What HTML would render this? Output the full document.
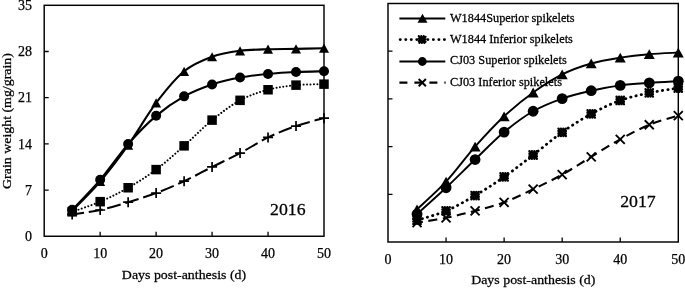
<!DOCTYPE html><html><head><meta charset="utf-8"><style>html,body{margin:0;padding:0;background:#fff}svg{display:block;filter:grayscale(1)}text{font-family:"Liberation Serif",serif;fill:#000;stroke:#000;stroke-width:0.25px}</style></head><body>
<svg width="685" height="288" viewBox="0 0 685 288">
<rect width="685" height="288" fill="#fff"/>
<rect x="44.20" y="5.30" width="279.80" height="230.95" fill="none" stroke="#000" stroke-width="1.45"/>
<path d="M100.16,236.25 v-4.5 M156.12,236.25 v-4.5 M212.08,236.25 v-4.5 M268.04,236.25 v-4.5 M44.20,190.06 h4.5 M44.20,143.87 h4.5 M44.20,97.68 h4.5 M44.20,51.49 h4.5 " stroke="#000" stroke-width="1.3" fill="none"/>
<text transform="translate(44.20,257.85) scale(1.000,1)" font-size="14.00" text-anchor="middle">0</text>
<text transform="translate(100.16,257.85) scale(1.000,1)" font-size="14.00" text-anchor="middle">10</text>
<text transform="translate(156.12,257.85) scale(1.000,1)" font-size="14.00" text-anchor="middle">20</text>
<text transform="translate(212.08,257.85) scale(1.000,1)" font-size="14.00" text-anchor="middle">30</text>
<text transform="translate(268.04,257.85) scale(1.000,1)" font-size="14.00" text-anchor="middle">40</text>
<text transform="translate(324.00,257.85) scale(1.000,1)" font-size="14.00" text-anchor="middle">50</text>
<text transform="translate(32.10,241.05) scale(1.000,1)" font-size="14.00" text-anchor="end">0</text>
<text transform="translate(32.10,194.86) scale(1.000,1)" font-size="14.00" text-anchor="end">7</text>
<text transform="translate(32.10,148.67) scale(1.000,1)" font-size="14.00" text-anchor="end">14</text>
<text transform="translate(32.10,102.48) scale(1.000,1)" font-size="14.00" text-anchor="end">21</text>
<text transform="translate(32.10,56.29) scale(1.000,1)" font-size="14.00" text-anchor="end">28</text>
<text transform="translate(32.10,10.10) scale(1.000,1)" font-size="14.00" text-anchor="end">35</text>
<rect x="388.00" y="3.50" width="290.30" height="238.50" fill="none" stroke="#000" stroke-width="1.45"/>
<path d="M446.06,242.00 v-4.5 M504.12,242.00 v-4.5 M562.18,242.00 v-4.5 M620.24,242.00 v-4.5 M388.00,194.30 h4.5 M388.00,146.60 h4.5 M388.00,98.90 h4.5 M388.00,51.20 h4.5 " stroke="#000" stroke-width="1.3" fill="none"/>
<text transform="translate(388.00,263.60) scale(1.000,1)" font-size="14.00" text-anchor="middle">0</text>
<text transform="translate(446.06,263.60) scale(1.000,1)" font-size="14.00" text-anchor="middle">10</text>
<text transform="translate(504.12,263.60) scale(1.000,1)" font-size="14.00" text-anchor="middle">20</text>
<text transform="translate(562.18,263.60) scale(1.000,1)" font-size="14.00" text-anchor="middle">30</text>
<text transform="translate(620.24,263.60) scale(1.000,1)" font-size="14.00" text-anchor="middle">40</text>
<text transform="translate(678.30,263.60) scale(1.000,1)" font-size="14.00" text-anchor="middle">50</text>
<text transform="translate(184.00,278.70) scale(1.070,1)" font-size="13.00" text-anchor="middle">Days post-anthesis (d)</text>
<text transform="translate(533.30,284.00) scale(1.070,1)" font-size="13.00" text-anchor="middle">Days post-anthesis (d)</text>
<text transform="translate(11.00,121.00) rotate(-90) scale(1.070,1)" font-size="13.00" text-anchor="middle">Grain weight (mg/grain)</text>
<text transform="translate(270.00,215.00) scale(1.070,1)" font-size="16.60" text-anchor="start">2016</text>
<text transform="translate(620.20,207.10) scale(1.070,1)" font-size="16.60" text-anchor="start">2017</text>
<text transform="translate(450.00,22.30) scale(1.070,1)" font-size="11.50" text-anchor="start">W1844Superior spikelets</text>
<text transform="translate(450.00,43.20) scale(1.070,1)" font-size="11.50" text-anchor="start">W1844 Inferior spikelets</text>
<text transform="translate(450.00,64.40) scale(1.070,1)" font-size="11.50" text-anchor="start">CJ03 Superior spikelets</text>
<text transform="translate(450.00,85.60) scale(1.070,1)" font-size="11.50" text-anchor="start">CJ03 Inferior spikelets</text>
<path d="M399.4,18.5 H445.3" stroke="#000" stroke-width="2.1"/><polygon points="422.50,13.70 417.50,22.70 427.50,22.70" fill="#000"/>
<path d="M400.1,39.6 H445.3" stroke="#000" stroke-width="2.7" stroke-dasharray="0.3 5.22" stroke-linecap="round"/><rect x="418.80" y="36.20" width="6.80" height="6.80" fill="#000" stroke="#000" stroke-width="2.20" stroke-dasharray="0.01 2.463" stroke-linecap="round"/>
<path d="M399.4,61.5 H445.3" stroke="#000" stroke-width="2.1"/><circle cx="422.30" cy="61.50" r="4.40" fill="#000"/>
<path d="M399.4,82.6 H445.6" stroke="#000" stroke-width="2.3" stroke-dasharray="8 7"/><path d="M418.70,79.00 L425.90,86.20 M418.70,86.20 L425.90,79.00" stroke="#000" stroke-width="2.00" fill="none"/>
<path d="M72.18,214.47 C76.84,213.73 90.83,212.03 100.16,209.99 C109.49,207.94 118.81,205.03 128.14,202.20 C137.47,199.37 146.79,196.53 156.12,193.03 C165.45,189.53 174.77,185.56 184.10,181.22 C193.43,176.87 202.75,171.65 212.08,166.97 C221.41,162.28 230.73,158.02 240.06,153.11 C249.39,148.19 258.71,141.98 268.04,137.47 C277.37,132.96 286.69,129.28 296.02,126.05 C305.35,122.83 319.34,119.46 324.00,118.14" fill="none" stroke="#000" stroke-width="2" stroke-dasharray="14 4.8" stroke-dashoffset="2"/>
<path d="M67.18,214.47 H77.18 M72.18,209.47 V219.47" stroke="#000" stroke-width="1.70" fill="none"/>
<path d="M95.16,209.99 H105.16 M100.16,204.99 V214.99" stroke="#000" stroke-width="1.70" fill="none"/>
<path d="M123.14,202.20 H133.14 M128.14,197.20 V207.20" stroke="#000" stroke-width="1.70" fill="none"/>
<path d="M151.12,193.03 H161.12 M156.12,188.03 V198.03" stroke="#000" stroke-width="1.70" fill="none"/>
<path d="M179.10,181.22 H189.10 M184.10,176.22 V186.22" stroke="#000" stroke-width="1.70" fill="none"/>
<path d="M207.08,166.97 H217.08 M212.08,161.97 V171.97" stroke="#000" stroke-width="1.70" fill="none"/>
<path d="M235.06,153.11 H245.06 M240.06,148.11 V158.11" stroke="#000" stroke-width="1.70" fill="none"/>
<path d="M263.04,137.47 H273.04 M268.04,132.47 V142.47" stroke="#000" stroke-width="1.70" fill="none"/>
<path d="M291.02,126.05 H301.02 M296.02,121.05 V131.05" stroke="#000" stroke-width="1.70" fill="none"/>
<path d="M319.00,118.14 H329.00 M324.00,113.14 V123.14" stroke="#000" stroke-width="1.70" fill="none"/>
<path d="M72.18,211.84 C76.84,210.14 90.83,205.69 100.16,201.67 C109.49,197.66 118.81,193.10 128.14,187.75 C137.47,182.41 146.79,176.59 156.12,169.60 C165.45,162.62 174.77,154.10 184.10,145.85 C193.43,137.60 202.75,127.70 212.08,120.12 C221.41,112.53 230.73,105.38 240.06,100.32 C249.39,95.26 258.71,92.29 268.04,89.76 C277.37,87.23 286.69,86.08 296.02,85.14 C305.35,84.21 319.34,84.32 324.00,84.15" fill="none" stroke="#000" stroke-width="2" stroke-dasharray="0.01 3.4" stroke-linecap="round"/>
<rect x="67.43" y="207.09" width="9.50" height="9.50" fill="#000"/>
<rect x="95.41" y="196.92" width="9.50" height="9.50" fill="#000"/>
<rect x="123.39" y="183.00" width="9.50" height="9.50" fill="#000"/>
<rect x="151.37" y="164.85" width="9.50" height="9.50" fill="#000"/>
<rect x="179.35" y="141.10" width="9.50" height="9.50" fill="#000"/>
<rect x="207.33" y="115.37" width="9.50" height="9.50" fill="#000"/>
<rect x="235.31" y="95.57" width="9.50" height="9.50" fill="#000"/>
<rect x="263.29" y="85.01" width="9.50" height="9.50" fill="#000"/>
<rect x="291.27" y="80.39" width="9.50" height="9.50" fill="#000"/>
<rect x="319.25" y="79.40" width="9.50" height="9.50" fill="#000"/>
<path d="M72.18,210.85 C76.84,205.95 90.83,192.42 100.16,181.48 C109.49,170.54 118.81,158.28 128.14,145.19 C137.47,132.10 146.79,115.28 156.12,102.96 C165.45,90.64 174.77,78.98 184.10,71.29 C193.43,63.59 202.75,60.18 212.08,56.77 C221.41,53.36 230.73,52.09 240.06,50.83 C249.39,49.57 258.71,49.51 268.04,49.18 C277.37,48.85 286.69,49.02 296.02,48.85 C305.35,48.69 319.34,48.30 324.00,48.19" fill="none" stroke="#000" stroke-width="2.1"/>
<polygon points="72.18,206.25 67.18,215.45 77.18,215.45" fill="#000"/>
<polygon points="100.16,176.88 95.16,186.08 105.16,186.08" fill="#000"/>
<polygon points="128.14,140.59 123.14,149.79 133.14,149.79" fill="#000"/>
<polygon points="156.12,98.36 151.12,107.56 161.12,107.56" fill="#000"/>
<polygon points="184.10,66.69 179.10,75.89 189.10,75.89" fill="#000"/>
<polygon points="212.08,52.17 207.08,61.37 217.08,61.37" fill="#000"/>
<polygon points="240.06,46.23 235.06,55.43 245.06,55.43" fill="#000"/>
<polygon points="268.04,44.58 263.04,53.78 273.04,53.78" fill="#000"/>
<polygon points="296.02,44.25 291.02,53.45 301.02,53.45" fill="#000"/>
<polygon points="324.00,43.59 319.00,52.79 329.00,52.79" fill="#000"/>
<path d="M72.18,209.86 C76.84,204.85 90.83,190.80 100.16,179.83 C109.49,168.87 118.81,154.74 128.14,144.07 C137.47,133.40 146.79,123.78 156.12,115.83 C165.45,107.87 174.77,101.58 184.10,96.36 C193.43,91.14 202.75,87.63 212.08,84.48 C221.41,81.34 230.73,79.25 240.06,77.49 C249.39,75.73 258.71,74.85 268.04,73.93 C277.37,73.00 286.69,72.39 296.02,71.95 C305.35,71.51 319.34,71.40 324.00,71.29" fill="none" stroke="#000" stroke-width="2.1"/>
<circle cx="72.18" cy="209.86" r="5.00" fill="#000"/>
<circle cx="100.16" cy="179.83" r="5.00" fill="#000"/>
<circle cx="128.14" cy="144.07" r="5.00" fill="#000"/>
<circle cx="156.12" cy="115.83" r="5.00" fill="#000"/>
<circle cx="184.10" cy="96.36" r="5.00" fill="#000"/>
<circle cx="212.08" cy="84.48" r="5.00" fill="#000"/>
<circle cx="240.06" cy="77.49" r="5.00" fill="#000"/>
<circle cx="268.04" cy="73.93" r="5.00" fill="#000"/>
<circle cx="296.02" cy="71.95" r="5.00" fill="#000"/>
<circle cx="324.00" cy="71.29" r="5.00" fill="#000"/>
<path d="M417.03,222.58 C421.87,221.78 436.38,219.76 446.06,217.81 C455.74,215.86 465.41,213.44 475.09,210.86 C484.77,208.28 494.44,205.95 504.12,202.34 C513.80,198.73 523.47,193.81 533.15,189.19 C542.83,184.57 552.50,180.00 562.18,174.61 C571.86,169.21 581.53,162.70 591.21,156.82 C600.89,150.94 610.56,144.65 620.24,139.31 C629.92,133.97 639.59,128.75 649.27,124.79 C658.95,120.84 673.46,117.13 678.30,115.59" fill="none" stroke="#000" stroke-width="2.1" stroke-dasharray="9 5.5" stroke-dashoffset="3"/>
<path d="M412.53,218.08 L421.53,227.08 M412.53,227.08 L421.53,218.08" stroke="#000" stroke-width="1.90" fill="none"/>
<path d="M441.56,213.31 L450.56,222.31 M441.56,222.31 L450.56,213.31" stroke="#000" stroke-width="1.90" fill="none"/>
<path d="M470.59,206.36 L479.59,215.36 M470.59,215.36 L479.59,206.36" stroke="#000" stroke-width="1.90" fill="none"/>
<path d="M499.62,197.84 L508.62,206.84 M499.62,206.84 L508.62,197.84" stroke="#000" stroke-width="1.90" fill="none"/>
<path d="M528.65,184.69 L537.65,193.69 M528.65,193.69 L537.65,184.69" stroke="#000" stroke-width="1.90" fill="none"/>
<path d="M557.68,170.11 L566.68,179.11 M557.68,179.11 L566.68,170.11" stroke="#000" stroke-width="1.90" fill="none"/>
<path d="M586.71,152.32 L595.71,161.32 M586.71,161.32 L595.71,152.32" stroke="#000" stroke-width="1.90" fill="none"/>
<path d="M615.74,134.81 L624.74,143.81 M615.74,143.81 L624.74,134.81" stroke="#000" stroke-width="1.90" fill="none"/>
<path d="M644.77,120.29 L653.77,129.29 M644.77,129.29 L653.77,120.29" stroke="#000" stroke-width="1.90" fill="none"/>
<path d="M673.80,111.09 L682.80,120.09 M673.80,120.09 L682.80,111.09" stroke="#000" stroke-width="1.90" fill="none"/>
<path d="M417.03,220.19 C421.87,218.64 436.38,214.97 446.06,210.86 C455.74,206.75 465.41,201.18 475.09,195.53 C484.77,189.87 494.44,183.68 504.12,176.92 C513.80,170.17 523.47,162.42 533.15,154.98 C542.83,147.54 552.50,139.14 562.18,132.29 C571.86,125.44 581.53,119.20 591.21,113.89 C600.89,108.59 610.56,103.97 620.24,100.47 C629.92,96.97 639.59,94.98 649.27,92.90 C658.95,90.83 673.46,88.81 678.30,88.00" fill="none" stroke="#000" stroke-width="2.8" stroke-dasharray="0.3 5.1" stroke-linecap="round"/>
<rect x="413.33" y="216.49" width="7.40" height="7.40" fill="#000" stroke="#000" stroke-width="2.40" stroke-dasharray="0.01 2.457" stroke-linecap="round"/>
<rect x="442.36" y="207.16" width="7.40" height="7.40" fill="#000" stroke="#000" stroke-width="2.40" stroke-dasharray="0.01 2.457" stroke-linecap="round"/>
<rect x="471.39" y="191.83" width="7.40" height="7.40" fill="#000" stroke="#000" stroke-width="2.40" stroke-dasharray="0.01 2.457" stroke-linecap="round"/>
<rect x="500.42" y="173.22" width="7.40" height="7.40" fill="#000" stroke="#000" stroke-width="2.40" stroke-dasharray="0.01 2.457" stroke-linecap="round"/>
<rect x="529.45" y="151.28" width="7.40" height="7.40" fill="#000" stroke="#000" stroke-width="2.40" stroke-dasharray="0.01 2.457" stroke-linecap="round"/>
<rect x="558.48" y="128.59" width="7.40" height="7.40" fill="#000" stroke="#000" stroke-width="2.40" stroke-dasharray="0.01 2.457" stroke-linecap="round"/>
<rect x="587.51" y="110.19" width="7.40" height="7.40" fill="#000" stroke="#000" stroke-width="2.40" stroke-dasharray="0.01 2.457" stroke-linecap="round"/>
<rect x="616.54" y="96.77" width="7.40" height="7.40" fill="#000" stroke="#000" stroke-width="2.40" stroke-dasharray="0.01 2.457" stroke-linecap="round"/>
<rect x="645.57" y="89.20" width="7.40" height="7.40" fill="#000" stroke="#000" stroke-width="2.40" stroke-dasharray="0.01 2.457" stroke-linecap="round"/>
<rect x="674.60" y="84.30" width="7.40" height="7.40" fill="#000" stroke="#000" stroke-width="2.40" stroke-dasharray="0.01 2.457" stroke-linecap="round"/>
<path d="M417.03,209.29 C421.87,204.69 436.38,192.13 446.06,181.69 C455.74,171.26 465.41,157.57 475.09,146.67 C484.77,135.77 494.44,125.31 504.12,116.28 C513.80,107.25 523.47,99.48 533.15,92.49 C542.83,85.51 552.50,79.21 562.18,74.37 C571.86,69.53 581.53,66.25 591.21,63.47 C600.89,60.68 610.56,59.22 620.24,57.67 C629.92,56.13 639.59,55.05 649.27,54.20 C658.95,53.35 673.46,52.84 678.30,52.56" fill="none" stroke="#000" stroke-width="1.9"/>
<polygon points="417.03,204.39 411.53,214.19 422.53,214.19" fill="#000"/>
<polygon points="446.06,176.79 440.56,186.59 451.56,186.59" fill="#000"/>
<polygon points="475.09,141.77 469.59,151.57 480.59,151.57" fill="#000"/>
<polygon points="504.12,111.38 498.62,121.18 509.62,121.18" fill="#000"/>
<polygon points="533.15,87.59 527.65,97.39 538.65,97.39" fill="#000"/>
<polygon points="562.18,69.47 556.68,79.27 567.68,79.27" fill="#000"/>
<polygon points="591.21,58.57 585.71,68.37 596.71,68.37" fill="#000"/>
<polygon points="620.24,52.77 614.74,62.57 625.74,62.57" fill="#000"/>
<polygon points="649.27,49.30 643.77,59.10 654.77,59.10" fill="#000"/>
<polygon points="678.30,47.66 672.80,57.46 683.80,57.46" fill="#000"/>
<path d="M417.03,214.06 C421.87,209.68 436.38,196.84 446.06,187.76 C455.74,178.67 465.41,168.83 475.09,159.55 C484.77,150.27 494.44,140.14 504.12,132.09 C513.80,124.03 523.47,116.82 533.15,111.23 C542.83,105.65 552.50,101.98 562.18,98.56 C571.86,95.14 581.53,92.91 591.21,90.72 C600.89,88.53 610.56,86.71 620.24,85.41 C629.92,84.10 639.59,83.59 649.27,82.89 C658.95,82.18 673.46,81.47 678.30,81.18" fill="none" stroke="#000" stroke-width="1.9"/>
<circle cx="417.03" cy="214.06" r="5.40" fill="#000"/>
<circle cx="446.06" cy="187.76" r="5.40" fill="#000"/>
<circle cx="475.09" cy="159.55" r="5.40" fill="#000"/>
<circle cx="504.12" cy="132.09" r="5.40" fill="#000"/>
<circle cx="533.15" cy="111.23" r="5.40" fill="#000"/>
<circle cx="562.18" cy="98.56" r="5.40" fill="#000"/>
<circle cx="591.21" cy="90.72" r="5.40" fill="#000"/>
<circle cx="620.24" cy="85.41" r="5.40" fill="#000"/>
<circle cx="649.27" cy="82.89" r="5.40" fill="#000"/>
<circle cx="678.30" cy="81.18" r="5.40" fill="#000"/>
</svg></body></html>
